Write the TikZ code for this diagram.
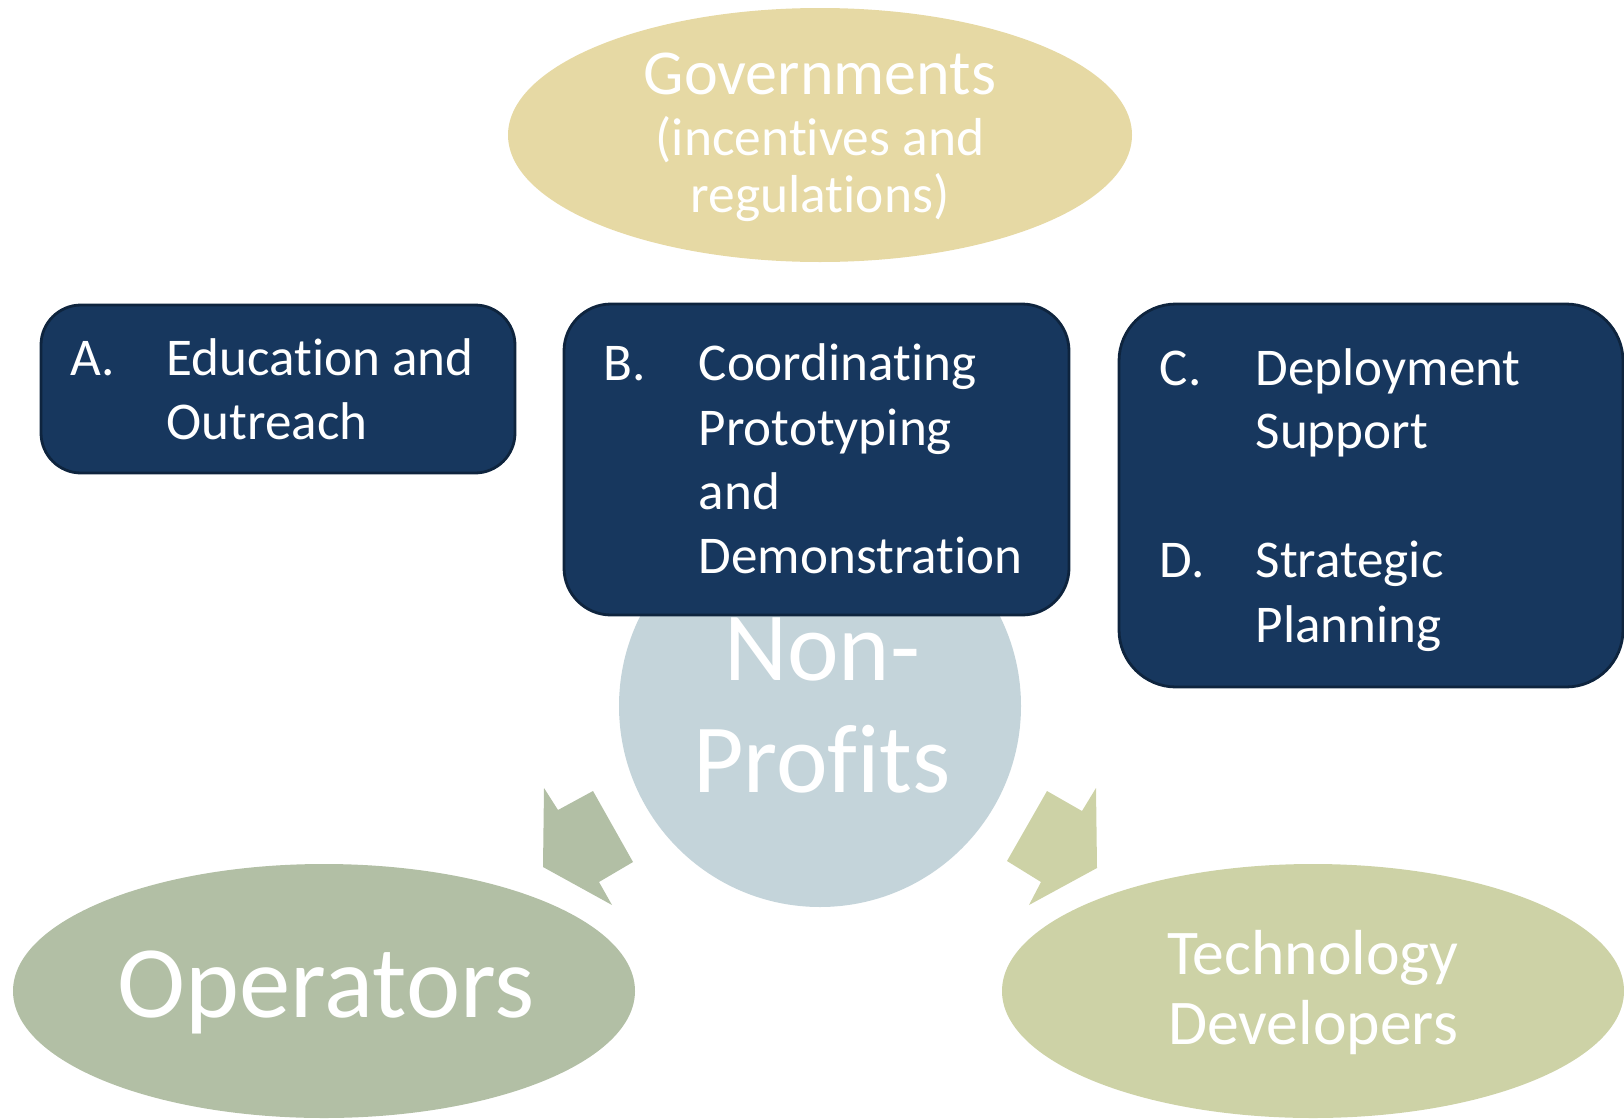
\documentclass[tikz,border=0pt]{standalone}
\usepackage{fontspec}
\setmainfont{Carlito}[Ligatures={NoCommon,NoContextual,NoRare}]
\begin{document}
\begin{tikzpicture}[x=0.01cm,y=-0.01cm,
  govfill/.style={fill={rgb,255:red,230;green,217;blue,164}},
  npfill/.style={fill={rgb,255:red,196;green,212;blue,218}},
  opfill/.style={fill={rgb,255:red,178;green,191;blue,165}},
  tdfill/.style={fill={rgb,255:red,205;green,210;blue,166}},
  navybox/.style={fill={rgb,255:red,23;green,55;blue,94},draw={rgb,255:red,14;green,36;blue,62},line width=0.028cm},
  boxtext/.style={text=white,inner sep=0pt,anchor=base west,font=\fontsize{15.1}{18}\selectfont},
  bigtext/.style={text=white,inner sep=0pt,anchor=base},
]
\useasboundingbox (0,0) rectangle (1624,1118);

% stakeholder shapes
\fill[govfill] (820,135) ellipse [x radius=312, y radius=127];
\fill[npfill] (820,706) circle [radius=201];
\fill[opfill] (324,991) ellipse [x radius=311, y radius=127];
\fill[tdfill] (1313,991) ellipse [x radius=311, y radius=127];

% block arrows from the centre towards the two lower groups
\fill[opfill] (544,788) -- (558,810) -- (593,791) -- (633,862) -- (599,882) -- (612,905) -- (543,867) -- cycle;
\fill[tdfill] (1047,791) -- (1082,811) -- (1096,788) -- (1097,868) -- (1029,905) -- (1041,882) -- (1007,861) -- cycle;

% labels of the stakeholder shapes
\node[bigtext,font=\fontsize{18.2}{21}\selectfont] (gov1) at (820,94) {Governments};
\node[bigtext,font=\fontsize{15.2}{18}\selectfont] (gov2) at (820,155) {(incentives and};
\node[bigtext,font=\fontsize{15.2}{18}\selectfont] (gov3) at (820,212) {regulations)};
\node[bigtext,font=\fontsize{27.8}{31}\selectfont] (np1) at (822,680) {Non-};
\node[bigtext,font=\fontsize{27.8}{31}\selectfont] (np2) at (822,792) {Profits};
\node[bigtext,font=\fontsize{29.2}{32}\selectfont] (op) at (326,1017) {Operators};
\node[bigtext,font=\fontsize{18.1}{21}\selectfont] (td1) at (1313,974) {Technology};
\node[bigtext,font=\fontsize{18.1}{21}\selectfont] (td2) at (1313,1044) {Developers};

% activity boxes
\draw[navybox,rounded corners=0.4cm] (41,305) rectangle (515,473);
\draw[navybox,rounded corners=0.47cm] (564,304) rectangle (1069,615);
\draw[navybox,rounded corners=0.57cm] (1119,304) rectangle (1623,687);

\node[boxtext] (la) at (70,375) {A.};
\node[boxtext] (a1) at (166,375) {Education and};
\node[boxtext] (a2) at (166,439) {Outreach};

\node[boxtext] (lb) at (603,380) {B.};
\node[boxtext] (b1) at (698,380) {Coordinating};
\node[boxtext] (b2) at (698,445) {Prototyping};
\node[boxtext] (b3) at (698,509) {and};
\node[boxtext] (b4) at (698,573) {Demonstration};

\node[boxtext] (lc) at (1159,385) {C.};
\node[boxtext] (c1) at (1255,385) {Deployment};
\node[boxtext] (c2) at (1255,448) {Support};
\node[boxtext] (ld) at (1159,577) {D.};
\node[boxtext] (d1) at (1255,577) {Strategic};
\node[boxtext] (d2) at (1255,642) {Planning};
\end{tikzpicture}
\end{document}
